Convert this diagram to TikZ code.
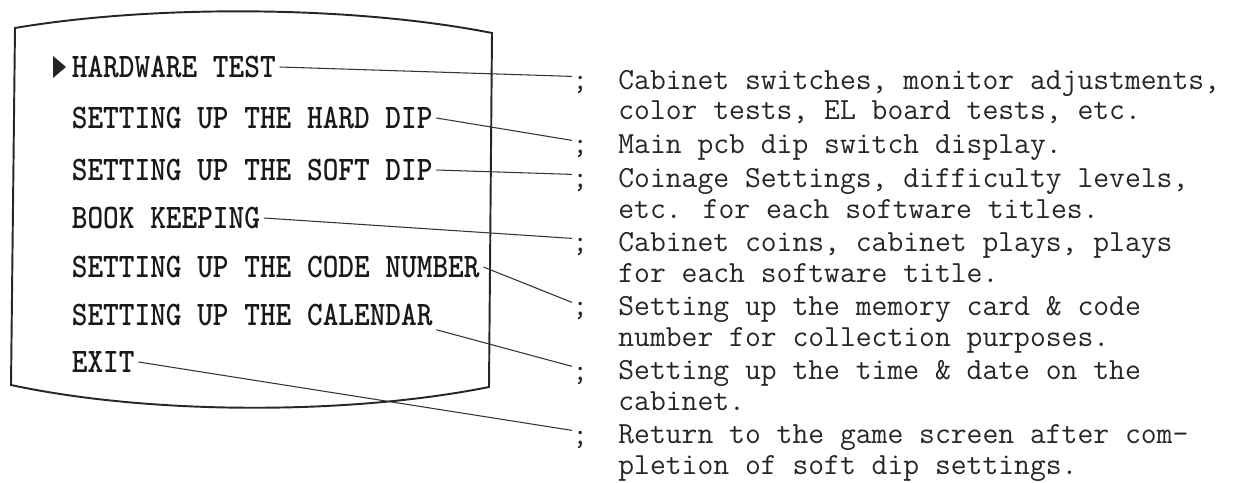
\documentclass[tikz,border=0pt]{standalone}
\usetikzlibrary{positioning}

\begin{document}
\begin{tikzpicture}[x=0.02cm, y=-0.02cm,
    menu/.style={anchor=west, inner sep=2pt, text=black!90,
        font=\ttfamily\fontseries{b}\fontsize{17}{18}\selectfont},
    semi/.style={anchor=base west, inner sep=0pt, text=black!85,
        font=\ttfamily\fontsize{17.5}{17.1}\selectfont},
    desc/.style={anchor=base west, inner sep=0pt, align=left, text=black!85,
        font=\ttfamily\fontsize{17.5}{17.1}\selectfont},
    link/.style={line width=0.6pt, black!80}]
    \useasboundingbox (0,0) rectangle (1249,483);

    % monitor screen
    \draw[line width=1.1pt, black!85] (15,28) .. controls (150,5) and (350,5) .. (492,33)
        -- (489,387) .. controls (350,415) and (150,415) .. (11,385) -- cycle;
    \fill[black!85] (53,56) -- (66,67) -- (53,78) -- cycle;

    % menu items
    \foreach \name/\y/\txt in {m1/67/HARDWARE TEST, m2/118/SETTING UP THE HARD DIP,
            m3/170/SETTING UP THE SOFT DIP, m4/218/BOOK KEEPING,
            m5/267/SETTING UP THE CODE NUMBER, m6/315/SETTING UP THE CALENDAR,
            m7/362/EXIT}
        \node[menu] (\name) at (68,\y) {\scalebox{1}[1.15]{\txt}};

    % semicolons
    \foreach \name/\y in {s1/90, s2/154, s3/188, s4/252, s5/316, s6/380, s7/444}
        \node[semi] (\name) at (572,\y) {;};

    % descriptions (base = last line)
    \node[desc] (d1) at (618,120) {Cabinet switches, monitor adjustments,\\color tests, EL board tests, etc.};
    \node[desc] (d2) at (618,154) {Main pcb dip switch display.};
    \node[desc] (d3) at (618,218) {Coinage Settings, difficulty levels,\\etc. for each software titles.};
    \node[desc] (d4) at (618,282) {Cabinet coins, cabinet plays, plays\\for each software title.};
    \node[desc] (d5) at (618,346) {Setting up the memory card \& code\\number for collection purposes.};
    \node[desc] (d6) at (618,410) {Setting up the time \& date on the\\cabinet.};
    \node[desc] (d7) at (618,474) {Return to the game screen after com-\\pletion of soft dip settings.};

    % connectors
    \draw[link] (m1.east) -- (s1.north west);
    \draw[link] (m2.east) -- (s2.north west);
    \draw[link] (m3.east) -- (s3.north west);
    \draw[link] (m4.east) -- (s4.north west);
    \draw[link] (m5.east) -- (s5.north west);
    \draw[link] (m6.south east) -- (s6.north west);
    \draw[link] (m7.east) -- (s7.north west);
\end{tikzpicture}
\end{document}
